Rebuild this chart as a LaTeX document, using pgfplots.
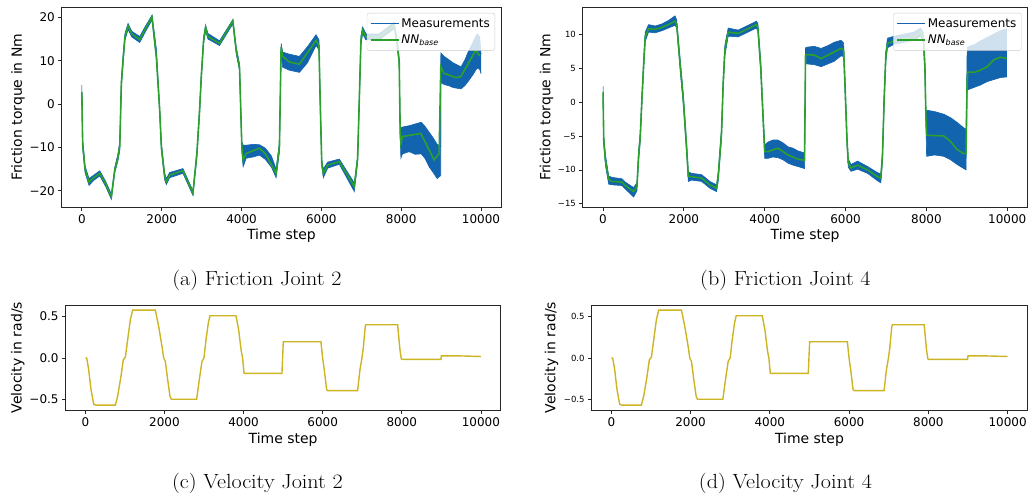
\documentclass[border=0pt]{standalone}
\usepackage{fontspec}
\usepackage{pgfplots}
\pgfplotsset{compat=1.18}
\usepgfplotslibrary{fillbetween}
\usepackage{pgfplotstable}
\newfontfamily\dejavu{DejaVu Sans}
\definecolor{mblue}{RGB}{18,100,175}
\definecolor{lblue}{RGB}{31,119,180}
\definecolor{nngreen}{RGB}{44,160,44}
\definecolor{vel}{RGB}{205,180,35}

\pgfplotstableread{
x nn
0 2.8
20 -9.0
80 -15.0
180 -18.0
300 -17.0
450 -16.0
600 -18.5
740 -21.4
825 -15.2
900 -12.5
950 -9.8
990 4.8
1033 10.1
1080 15.5
1158 18.0
1250 16.2
1450 14.9
1600 17.5
1758 20.1
1867 10.9
1950 -1.4
1992 -9.8
2075 -16.7
2117 -17.9
2200 -16.4
2533 -15.4
2783 -20.6
2883 -11.4
2950 -1.4
2992 6.3
3050 14.7
3100 17.7
3158 15.6
3450 14.0
3783 19.2
3867 12.4
3950 8.5
4008 -9.8
4040 -12.9
4117 -11.4
4450 -10.2
4600 -11.5
4867 -16.0
4950 -9.8
4992 13.2
5030 11.0
5200 9.7
5450 9.2
5867 14.7
5940 13.5
5970 1.0
6010 -13.6
6050 -16.0
6158 -14.1
6450 -13.3
6825 -19.0
6908 -12.7
6950 0.9
6992 14.7
7033 17.0
7117 15.5
7450 15.5
7825 18.2
7900 14.0
7950 9.7
7975 -6.7
7992 -9.1
8033 -7.5
8492 -6.8
8825 -12.9
8950 -11.4
8992 8.6
9075 7.1
9367 6.1
9492 6.3
9867 12.4
9967 11.1
}\nnA

\pgfplotstableread{
x lo hi
0 2.0 4.4
20 -10.3 -8.0
80 -15.8 -14.2
180 -18.8 -17.2
300 -17.6 -16.4
450 -16.6 -15.4
600 -19.1 -17.9
740 -22.0 -20.8
825 -15.8 -14.6
900 -13.3 -11.7
950 -10.8 -8.7
990 3.7 5.8
1033 9.2 11.3
1080 14.7 16.3
1158 17.2 18.6
1250 15.5 16.8
1450 14.2 15.6
1600 16.8 18.1
1758 19.4 20.5
1867 10.2 12.8
1950 -2.3 -0.5
1992 -10.8 -8.9
2075 -17.5 -16.0
2117 -18.6 -17.2
2200 -17.0 -15.8
2533 -16.0 -14.9
2783 -21.1 -20.0
2883 -12.3 -10.5
2950 -2.3 -0.5
2992 5.4 7.1
3050 13.9 15.5
3100 16.9 18.2
3158 15.0 16.3
3450 13.5 14.6
3783 18.5 19.5
3867 11.6 13.2
3950 7.7 9.3
4008 -11.0 -8.8
4040 -14.5 -9.5
4117 -12.5 -9.5
4300 -12.2 -9.3
4450 -11.8 -9.4
4600 -12.8 -10.2
4750 -14.6 -12.0
4867 -17.0 -15.0
4950 -11.0 -8.8
4992 12.0 14.0
5030 8.5 12.0
5200 7.8 11.5
5450 7.3 11.0
5650 9.5 13.2
5867 13.5 16.0
5940 12.5 14.8
5970 -0.5 2.5
6010 -14.4 -12.8
6050 -17.0 -15.0
6158 -14.8 -13.4
6450 -13.9 -12.7
6825 -20.2 -18.2
6908 -13.5 -11.9
6950 -0.2 2.0
6992 13.7 15.8
7033 16.2 17.8
7117 14.8 16.2
7450 14.8 16.2
7825 17.4 18.9
7900 13.2 14.8
7950 8.9 10.5
7975 -7.5 -5.8
7992 -12.5 -5.5
8033 -11.5 -5.3
8200 -11.0 -5.0
8350 -11.6 -4.6
8500 -11.5 -4.2
8600 -12.6 -5.2
8700 -14.5 -6.5
8800 -15.8 -7.8
8900 -17.2 -9.3
8990 -16.5 -9.8
8992 5.0 11.8
9075 4.5 11.0
9200 4.2 10.2
9300 3.8 9.5
9500 3.5 8.6
9600 4.3 10.3
9700 5.5 12.5
9800 6.8 14.3
9900 8.3 16.2
9967 8.0 15.5
10000 7.0 11.5
}\bandA

\pgfplotstableread{
x nn
0 1.5
17 -5.6
58 -8.5
140 -11.4
222 -11.7
468 -11.8
550 -12.3
756 -13.2
838 -12.5
879 -8.0
920 -5.1
961 0.3
1002 5.2
1043 9.6
1125 10.8
1290 10.7
1455 11.0
1617 11.4
1781 11.9
1822 11.5
1905 5.7
1987 0.3
2070 -7.0
2110 -11.0
2192 -11.0
2439 -11.2
2644 -12.2
2808 -12.7
2849 -11.0
2931 -4.6
2972 2.7
3014 7.6
3096 10.3
3342 10.1
3588 10.8
3793 11.4
3830 11.0
3901 5.2
3959 -2.2
4000 -7.3
4082 -7.3
4328 -6.8
4575 -7.8
4821 -8.4
4985 -8.6
5010 6.9
5066 7.0
5230 6.9
5394 6.4
5559 6.9
5887 7.9
5952 7.7
5985 2.7
6035 -5.6
6068 -9.0
6134 -9.7
6298 -9.3
6544 -10.0
6790 -11.0
6872 -11.2
6913 -8.0
6954 0.3
6995 6.6
7036 8.6
7201 9.0
7693 9.6
7857 10.3
7922 9.6
7963 5.2
7988 -2.2
8005 -4.8
8022 -4.9
8432 -5.0
8596 -5.8
8760 -7.0
8924 -7.6
8981 -7.6
9006 2.7
9023 4.4
9200 4.4
9336 4.7
9500 5.2
9664 6.2
9828 6.6
9992 6.4
}\nnB

\pgfplotstableread{
x lo hi
0 1.0 2.3
17 -6.3 -4.9
58 -9.3 -7.7
140 -12.1 -10.9
222 -12.2 -11.1
468 -12.3 -11.3
550 -12.8 -11.8
756 -14.0 -12.6
838 -13.1 -11.9
879 -8.8 -7.2
920 -5.8 -4.4
961 -0.5 1.1
1002 4.4 6.0
1043 8.9 10.3
1125 10.3 11.4
1290 10.2 11.2
1455 10.5 11.5
1617 10.9 12.0
1781 11.3 12.7
1822 10.9 12.1
1905 4.9 6.5
1987 -0.5 1.1
2070 -7.8 -6.2
2110 -11.7 -10.3
2192 -11.5 -10.5
2439 -11.7 -10.7
2644 -12.7 -11.7
2808 -13.2 -12.2
2849 -11.7 -10.3
2931 -5.4 -3.8
2972 1.9 3.5
3014 6.8 8.4
3096 9.7 10.9
3342 9.6 10.6
3588 10.3 11.3
3793 10.9 11.9
3830 10.4 11.6
3901 4.4 6.0
3959 -3.0 -1.4
4000 -8.3 -6.3
4082 -8.3 -5.9
4200 -8.1 -5.6
4328 -8.2 -5.6
4450 -8.5 -6.0
4575 -9.0 -6.6
4700 -9.3 -6.8
4821 -9.5 -7.2
4985 -9.8 -7.5
5010 5.7 8.0
5066 5.6 8.1
5230 5.5 8.2
5394 5.2 7.9
5559 5.6 8.3
5720 6.0 8.8
5887 6.8 9.1
5952 6.7 8.7
5985 1.7 3.7
6035 -6.4 -4.8
6068 -9.6 -8.4
6134 -10.2 -9.2
6298 -9.9 -8.7
6544 -10.5 -9.5
6790 -11.6 -10.4
6872 -11.9 -10.6
6913 -8.8 -7.2
6954 -0.5 1.1
6995 5.8 7.4
7036 8.0 9.4
7201 8.5 9.7
7693 9.1 10.3
7857 9.7 10.9
7922 9.0 10.2
7963 4.4 6.0
7988 -3.0 -1.4
8005 -8.0 -1.2
8200 -7.8 -1.4
8432 -8.0 -1.8
8596 -8.5 -2.3
8760 -9.2 -3.0
8924 -9.8 -3.8
8981 -10.0 -4.0
9006 1.8 7.0
9023 1.8 8.1
9200 2.2 8.5
9336 2.5 9.0
9500 3.0 9.5
9664 3.3 10.0
9828 3.6 10.5
9992 3.7 10.8
}\bandB

\pgfplotstableread{
x v
0 0
34 0
84 -0.14
143 -0.38
211 -0.556
270 -0.568
758 -0.568
817 -0.46
901 -0.22
960 -0.02
1011 0.01
1070 0.22
1137 0.46
1196 0.576
1769 0.576
1853 0.38
1938 0.14
1980 0.0
2022 -0.04
2081 -0.26
2140 -0.46
2174 -0.496
2814 -0.496
2881 -0.26
2949 -0.04
2999 0.0
3050 0.22
3109 0.42
3151 0.508
3808 0.508
3875 0.34
3942 0.08
3976 0.0
4010 -0.18
4040 -0.185
4970 -0.185
5004 0.195
5956 0.195
5998 0.0
6040 -0.14
6099 -0.38
6125 -0.392
6883 -0.392
6942 -0.14
6993 0.0
7026 0.12
7077 0.38
7094 0.4
7894 0.4
7953 0.1
7987 -0.01
8010 -0.016
8989 -0.016
9000 0.025
9450 0.025
10000 0.018
}\velo

\pgfplotsset{
  base/.style={
    scale only axis,
    axis line style={black!85, line width=0.8pt},
    tick align=outside, major tick length=3.5pt,
    tick style={black!85, line width=0.8pt},
    xtick pos=left, ytick pos=left,
    xmin=-500, xmax=10500,
    xtick={0,2000,4000,6000,8000,10000},
    xticklabels={0,2000,4000,6000,8000,10000},
    scaled x ticks=false,
    xticklabel style={font=\dejavu\fontsize{12}{14}\selectfont},
    yticklabel style={font=\dejavu\fontsize{12}{14}\selectfont},
    every axis x label/.style={at={(rel axis cs:0.5,0)}, anchor=base, yshift=-32pt, font=\dejavu\fontsize{14}{16}\selectfont},
    every axis y label/.style={at={(rel axis cs:0,0.5)}, rotate=90, anchor=center, font=\dejavu\fontsize{14}{16}\selectfont},
    legend cell align=left,
    legend image code/.code={\draw[##1, line width=1.4pt] (0pt,0pt) -- (28pt,0pt);},
    legend style={at={(1,1)}, anchor=north east, xshift=-6pt, yshift=-6pt,
      draw=black!20, fill=white, fill opacity=0.8, text opacity=1,
      rounded corners=2pt, font=\dejavu\fontsize{12}{14}\selectfont,
      inner xsep=3pt, inner ysep=2pt,
      nodes={inner ysep=3.2pt}},
  },
  small y/.style={yticklabel style={font=\dejavu\fontsize{8.5}{10}\selectfont}},
}

\begin{document}
\begin{tikzpicture}

% (a)
\begin{axis}[base, at={(62pt,-208pt)}, anchor=south west,
  width=440pt, height=201pt, ymin=-23.9, ymax=22.4,
  ytick={-20,-10,0,10,20}, yticklabels={−20,−10,0,10,20},
  xlabel={Time step}, ylabel={Friction torque in Nm},
  ylabel style={yshift=44pt}]
\addplot[name path=ah, draw=mblue, line width=0.6pt] table[x=x,y=hi]{\bandA};
\addlegendentry{Measurements}
\addplot[name path=al, draw=mblue, line width=0.6pt, forget plot] table[x=x,y=lo]{\bandA};
\addplot[mblue, forget plot] fill between[of=ah and al];
\addplot[nngreen, line width=1.6pt] table[x=x,y=nn]{\nnA};
\addlegendentry{\textit{NN}\textsubscript{\textit{base}}}
\end{axis}

% (b)
\begin{axis}[base, small y, at={(584pt,-208pt)}, anchor=south west,
  width=445.5pt, height=201pt, ymin=-15.55, ymax=14.0,
  ytick={-15,-10,-5,0,5,10}, yticklabels={−15,−10,−5,0,5,10},
  xlabel={Time step}, ylabel={Friction torque in Nm},
  ylabel style={yshift=36.5pt}]
\addplot[name path=bh, draw=mblue, line width=0.6pt] table[x=x,y=hi]{\bandB};
\addlegendentry{Measurements}
\addplot[name path=bl, draw=mblue, line width=0.6pt, forget plot] table[x=x,y=lo]{\bandB};
\addplot[mblue, forget plot] fill between[of=bh and bl];
\addplot[nngreen, line width=1.6pt] table[x=x,y=nn]{\nnB};
\addlegendentry{\textit{NN}\textsubscript{\textit{base}}}
\end{axis}

% (c)
\begin{axis}[base, at={(65.7pt,-411pt)}, anchor=south west,
  width=436pt, height=105.3pt, ymin=-0.628, ymax=0.636,
  ytick={-0.5,0,0.5}, yticklabels={−0.5,0.0,0.5},
  xlabel={Time step}, ylabel={Velocity in rad/s},
  xlabel style={yshift=-1pt}, ylabel style={yshift=48pt}]
\addplot[vel, line width=1.4pt] table[x=x,y=v]{\velo};
\end{axis}

% (d)
\begin{axis}[base, small y, at={(592.7pt,-411pt)}, anchor=south west,
  width=436.8pt, height=105.3pt, ymin=-0.628, ymax=0.636,
  ytick={-0.5,0,0.5}, yticklabels={−0.5,0.0,0.5},
  xlabel={Time step}, ylabel={Velocity in rad/s},
  xlabel style={yshift=-1pt}, ylabel style={yshift=40pt}]
\addplot[vel, line width=1.4pt] table[x=x,y=v]{\velo};
\end{axis}

\node[anchor=base, font=\fontsize{20.5}{24}\selectfont] at (257.5pt,-285.7pt) {\scalebox{1.08}[1]{(a) Friction Joint 2}};
\node[anchor=base, font=\fontsize{20.5}{24}\selectfont] at (787pt,-285.7pt) {\scalebox{1.08}[1]{(b) Friction Joint 4}};
\node[anchor=base, font=\fontsize{20.5}{24}\selectfont] at (258pt,-489.3pt) {\scalebox{1.08}[1]{(c) Velocity Joint 2}};
\node[anchor=base, font=\fontsize{20.5}{24}\selectfont] at (787pt,-489.3pt) {\scalebox{1.08}[1]{(d) Velocity Joint 4}};
\path (0pt,0pt) rectangle (1030pt,-496pt);
\end{tikzpicture}
\end{document}
